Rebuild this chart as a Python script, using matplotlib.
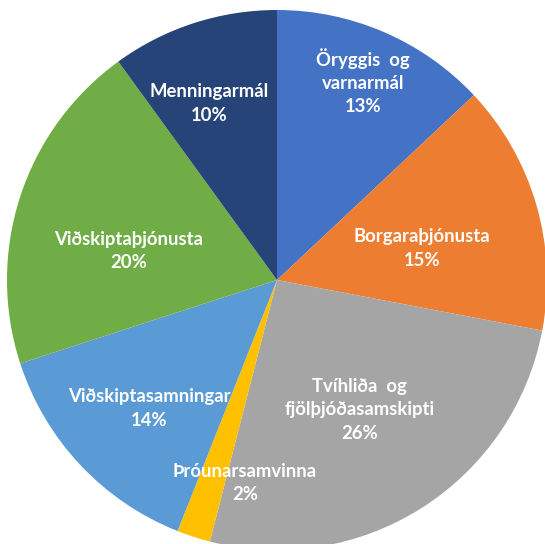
import matplotlib
import matplotlib.pyplot as plt
import numpy as np

matplotlib.use("Agg")

categories = [
    "Öryggis  og\nvarnarmál",
    "Borgaraþjónusta",
    "Tvíhliða  og\nfjölþjóðasamskipti",
    "Þróunarsamvinna",
    "Viðskiptasamningar",
    "Viðskiptaþjónusta",
    "Menningarmál",
]
shares = [13, 15, 26, 2, 14, 20, 10]

colors = [
    "#4472C4",  # blue
    "#ED7D31",  # orange
    "#A5A5A5",  # gray
    "#FFC000",  # gold
    "#5B9BD5",  # light blue
    "#70AD47",  # green
    "#264478",  # dark blue
]

# label placement (fraction of radius, angle tweak in degrees)
label_dist = [0.80, 0.55, 0.57, 0.76, 0.67, 0.56, 0.70]
label_turn = [0, -4, 0, 9, 2, 7, 3]

fig = plt.figure(figsize=(5.45, 5.44), dpi=100)
ax = fig.add_axes([0, 0, 1, 1])

wedges, _ = ax.pie(
    shares,
    colors=colors,
    startangle=90,
    counterclock=False,
    radius=1.0,
    wedgeprops={"linewidth": 0},
)

for w, cat, val, d, t in zip(wedges, categories, shares, label_dist, label_turn):
    ang = np.deg2rad((w.theta1 + w.theta2) / 2 + t)
    ax.text(
        d * np.cos(ang),
        d * np.sin(ang),
        f"{cat}\n{val}%",
        ha="center",
        va="center",
        color="white",
        fontsize=13.3,
        fontweight="bold",
        family=["Lato", "DejaVu Sans"],
        linespacing=1.45,
    )

ax.set_xlim(-277 / 270, 268 / 270)
ax.set_ylim(-264 / 270, 280 / 270)
ax.set_aspect("equal")
ax.axis("off")

fig.savefig("out.png", dpi=100)
plt.close(fig)
